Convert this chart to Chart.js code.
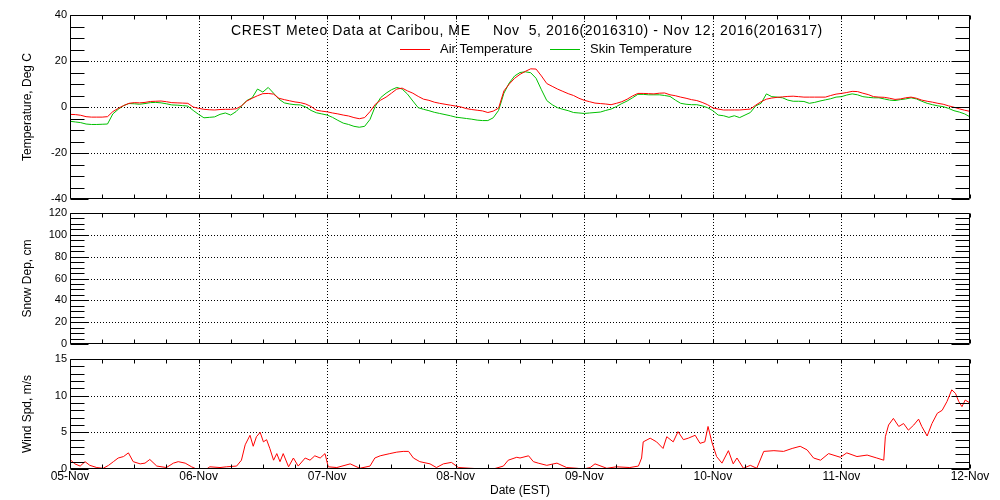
<!DOCTYPE html>
<html>
<head>
<meta charset="utf-8">
<script src="https://cdn.jsdelivr.net/npm/chart.js"></script>
<style>
  html, body { margin: 0; padding: 0; background: #fff; }
  #wrap { position: relative; width: 1000px; height: 500px; overflow: hidden; }
  canvas { position: absolute; left: 0; }
</style>
</head>
<body>
<div id="wrap">
  <canvas id="tempChart" width="1000" height="215" style="top:0px"></canvas>
  <canvas id="snowChart" width="1000" height="160" style="top:198px"></canvas>
  <canvas id="windChart" width="1000" height="156" style="top:344px"></canvas>
</div>

<script>
  // ---- data (hours counted from 05-Nov 00:00 EST) ----
  const dayLabels = ["05-Nov", "06-Nov", "07-Nov", "08-Nov", "09-Nov", "10-Nov", "11-Nov", "12-Nov"];

  // hourly air temperature, deg C, hour 0..168
  const airTemp = [
    -3.2, -3.3, -3.6, -4.2, -4.4, -4.4, -4.4, -4.2, -2.0, -0.6, 0.6, 1.6,
    1.9, 1.8, 2.0, 2.4, 2.5, 2.6, 2.3, 1.9, 1.8, 1.7, 1.6, 0.0,
    -0.6, -1.0, -1.2, -1.3, -1.1, -1.0, -1.0, -0.8, 0.5, 2.6, 3.8, 4.9,
    5.8, 5.9, 5.6, 3.8, 3.2, 2.7, 2.2, 1.9, 1.3, 0.2, -1.4, -1.8,
    -2.1, -2.6, -3.0, -3.5, -3.9, -4.6, -5.1, -4.6, -2.0, 1.2, 3.0, 4.3,
    6.0, 7.8, 8.2, 7.0, 6.0, 4.6, 3.4, 2.9, 2.1, 1.6, 1.2, 0.8,
    0.4, 0.0, -0.7, -1.1, -1.4, -1.7, -2.4, -1.8, -0.5, 7.0, 10.0, 12.5,
    14.2, 15.5, 16.6, 16.5, 13.5, 10.2, 9.0, 7.8, 6.8, 5.8, 5.0, 3.8,
    2.9, 2.3, 1.7, 1.5, 1.3, 1.0, 1.6, 2.3, 3.4, 4.8, 5.9, 5.9,
    5.8, 5.7, 6.0, 6.1, 5.3, 4.9, 4.3, 3.8, 3.2, 2.8, 2.0, 1.0,
    -0.4, -0.9, -1.3, -1.3, -1.3, -1.3, -1.1, -0.9, 0.8, 2.3, 3.4, 3.9,
    4.2, 4.4, 4.6, 4.7, 4.5, 4.3, 4.3, 4.3, 4.3, 4.3, 5.0, 5.6,
    5.9, 6.3, 6.8, 6.7, 6.0, 5.4, 4.5, 4.3, 4.2, 3.8, 3.3, 3.5,
    4.0, 4.3, 3.8, 3.0, 2.5, 2.1, 1.6, 1.2, 0.5, -0.1, -0.8, -1.4,
    -1.9
  ];

  // hourly skin temperature, deg C, hour 0..168
  const skinTemp = [
    -6.2, -6.5, -6.8, -7.4, -7.6, -7.6, -7.5, -7.4, -3.0, -1.0, 0.6, 1.5,
    1.4, 1.2, 1.5, 1.9, 2.0, 1.8, 1.4, 0.9, 0.8, 0.6, 0.4, -1.5,
    -3.2, -4.7, -4.5, -4.3, -3.2, -2.6, -3.5, -2.0, 0.4, 2.8, 4.0, 7.8,
    6.5, 8.5, 6.0, 3.4, 1.8, 1.3, 1.0, 0.9, 0.0, -1.5, -2.5, -3.0,
    -3.5, -4.5, -5.8, -7.0, -7.6, -8.4, -8.8, -8.4, -5.4, 0.4, 4.1, 6.0,
    7.5, 8.5, 7.8, 5.6, 2.6, -0.3, -1.0, -1.6, -2.3, -2.8, -3.3, -3.8,
    -4.4, -4.7, -5.0, -5.3, -5.7, -5.9, -5.9, -4.7, -1.5, 6.0, 10.5, 13.5,
    15.0, 15.3, 14.9, 12.5, 7.5, 2.8, 1.0, -0.3, -1.0, -1.6, -2.4, -2.6,
    -2.8, -2.6, -2.4, -2.2, -1.5, -0.9, 0.2, 1.5, 2.6, 4.0, 5.5, 5.5,
    5.3, 5.3, 5.3, 5.0, 4.6, 3.0, 1.6, 1.2, 1.0, 1.0, 0.5, -0.3,
    -1.6, -3.5, -3.8, -4.5, -3.8, -4.6, -3.5, -2.4, 0.5, 1.6, 5.7, 4.5,
    4.3, 4.0, 3.0, 2.5, 2.5, 2.4, 1.6, 2.0, 2.6, 3.1, 3.6, 4.3,
    4.5, 5.2, 5.7, 5.3, 4.5, 4.2, 4.0, 4.0, 3.5, 3.0, 2.8, 3.2,
    3.5, 4.0, 3.5, 2.5, 1.6, 1.0, 0.5, 0.15, -0.6, -1.6, -2.2, -3.0,
    -4.3
  ];

  // snow depth: no readings in this week
  const snowHours = [];
  const snowDepth = [];

  // wind speed, m/s
  const windHours = [
    0, 0.9, 1.9, 2.8, 3.7, 5, 6.2, 7.2, 8.1, 9, 10, 10.9, 11.8, 13.1, 14, 14.9,
    16.2, 18, 19.3, 20.2, 21.5, 22.7, 23.6, 25.5, 26.1, 28, 29.2, 31.1, 32, 32.7,
    33.6, 34.2, 34.8, 35.5, 36.1, 36.7, 37.3, 38, 38.6, 39.2, 39.8, 40.8, 41.7,
    42.6, 43.9, 44.8, 45.7, 46.7, 47.6, 48.2, 49.8, 52.3, 54.1, 56, 56.9, 57.9,
    59.7, 61, 62.2, 63.2, 64.1, 65.3, 67.2, 68.4, 69.7, 71.2, 72.5, 74.7, 77.2,
    79, 80.9, 81.8, 83.4, 84, 85.6, 86.5, 87.4, 89, 90.9, 92.7, 94.6, 95.8, 97.1,
    98, 100.2, 102, 104.5, 106.1, 106.7, 107, 108.3, 109.5, 110.7, 111.4, 112.6,
    113.5, 114.5, 115.4, 116.7, 117.6, 118.5, 119.1, 119.8, 120.7, 121.7, 122.9,
    123.8, 124.5, 125.7, 127, 128.2, 129.5, 131.4, 133.2, 134.8, 136.3, 137.6,
    138.8, 140.1, 141.6, 143.8, 145, 146.9, 148.8, 150.6, 151.9, 152.2, 152.8,
    153.7, 154.7, 155.6, 156.5, 157.5, 158.4, 159, 160, 160.9, 161.9, 162.8,
    163.7, 164.6, 165.3, 165.9, 166.5, 167.1, 168
  ];
  const windSpeed = [
    1.3, 0.7, 0.4, 1.0, 0.5, 0.2, 0.1, 0.5, 1.0, 1.5, 1.7, 2.2, 1.0, 0.7, 0.8, 1.3,
    0.4, 0.2, 0.8, 1.0, 0.8, 0.3, 0.0, 0.0, 0.3, 0.2, 0.3, 0.4, 1.2, 3.3,
    4.6, 3.1, 4.4, 5.0, 3.7, 4.0, 2.8, 1.2, 2.1, 1.0, 2.1, 0.3, 1.5,
    0.4, 1.5, 1.2, 1.8, 1.5, 2.1, 0.3, 0.2, 0.7, 0.1, 0.4, 1.5, 1.8,
    2.1, 2.3, 2.4, 2.4, 1.5, 1.0, 0.7, 0.2, 0.7, 0.9, 0.2, 0.1, 0.0,
    0.0, 0.4, 1.2, 1.6, 1.5, 1.8, 1.0, 0.8, 0.5, 0.8, 0.2, 0.1, 0.0, 0.2,
    0.7, 0.1, 0.3, 0.2, 0.4, 1.5, 3.7, 4.2, 3.7, 2.8, 4.4, 3.7,
    5.1, 4.0, 4.2, 4.6, 3.5, 3.7, 5.8, 3.7, 1.7, 0.8, 2.5,
    0.7, 1.5, 0.1, 0.5, 0.1, 2.4, 2.5, 2.4, 2.8, 3.1, 2.6,
    1.5, 1.2, 2.1, 1.6, 2.2, 1.7, 1.9, 1.5, 1.2, 4.4, 6.0,
    6.9, 5.8, 6.2, 5.3, 6.0, 6.8, 5.8, 4.5, 6.2, 7.6, 8.0,
    9.2, 10.8, 10.3, 9.2, 8.5, 9.4, 9.0
  ];

  const FONT = '"Liberation Sans", Arial, sans-serif';
  const RED = "rgb(255,0,0)";
  const GREEN = "rgb(0,192,0)";

  // IDL-style frame: dotted grid, inward ticks on all four sides
  const idlAxes = {
    id: "idlAxes",
    beforeDatasetsDraw(chart, args, opts) {
      const { ctx, chartArea: a, scales: { x, y } } = chart;
      ctx.save();
      ctx.strokeStyle = "#000";
      ctx.lineWidth = 1;
      ctx.setLineDash([1, 2]);
      ctx.beginPath();
      for (let h = x.min + 24; h < x.max; h += 24) {
        const px = Math.round(x.getPixelForValue(h)) + 0.5;
        ctx.moveTo(px, a.top);
        ctx.lineTo(px, a.bottom);
      }
      for (let v = y.min + opts.major; v < y.max - 1e-6; v += opts.major) {
        const py = Math.round(y.getPixelForValue(v)) + 0.5;
        ctx.moveTo(a.left, py);
        ctx.lineTo(a.right, py);
      }
      ctx.stroke();
      ctx.restore();
    },
    afterDatasetsDraw(chart, args, opts) {
      const { ctx, chartArea: a, scales: { x, y } } = chart;
      ctx.save();
      ctx.strokeStyle = "#000";
      ctx.lineWidth = 1;
      ctx.beginPath();
      const L = Math.round(a.left) + 0.5, R = Math.round(a.right) - 0.5;
      const T = Math.round(a.top) + 0.5, B = Math.round(a.bottom) - 0.5;
      ctx.rect(L, T, R - L, B - T);
      // y ticks, left and right
      for (let v = y.min; v <= y.max + 1e-6; v += opts.minor) {
        const py = Math.round(y.getPixelForValue(v)) + 0.5;
        const isMajor = Math.abs(v / opts.major - Math.round(v / opts.major)) < 1e-6;
        const len = isMajor ? 18 : 14;
        ctx.moveTo(L, py); ctx.lineTo(L + len, py);
        ctx.moveTo(R, py); ctx.lineTo(R - len, py);
      }
      // x ticks every 6 hours, top and bottom
      for (let h = x.min; h <= x.max; h += 6) {
        const px = Math.round(x.getPixelForValue(h)) + 0.5;
        ctx.moveTo(px, T); ctx.lineTo(px, T + 4);
        ctx.moveTo(px, B); ctx.lineTo(px, B - 4);
      }
      ctx.stroke();
      ctx.restore();
    }
  };

  // title + legend written inside the top panel
  const idlTitle = {
    id: "idlTitle",
    afterDraw(chart, args, o) {
      const ctx = chart.ctx;
      ctx.save();
      ctx.fillStyle = "#000";
      ctx.textBaseline = "middle";
      ctx.font = "14px " + FONT;
      ctx.letterSpacing = "0.6px";
      ctx.fillText(o.text, o.x, o.y);
      ctx.letterSpacing = "0px";
      ctx.font = "13px " + FONT;
      o.items.forEach((lx, i) => {
        const ds = chart.data.datasets[i];
        ctx.strokeStyle = ds.borderColor;
        ctx.lineWidth = 1;
        ctx.beginPath();
        ctx.moveTo(lx, o.legendY + 0.5);
        ctx.lineTo(lx + 30, o.legendY + 0.5);
        ctx.stroke();
        ctx.fillText(ds.label, lx + 40, o.legendY);
      });
      ctx.restore();
    }
  };

  function yScale(min, max, step, title) {
    return {
      min: min, max: max,
      afterFit: s => { s.width = 70; },
      grid: { display: false, drawTicks: false },
      border: { display: false },
      ticks: { stepSize: step, padding: 3, color: "#000", font: { family: FONT, size: 11 } },
      title: { display: true, text: title, color: "#000", font: { family: FONT, size: 12 }, padding: { top: 20, bottom: 0 } }
    };
  }

  function baseOptions(padding) {
    return {
      animation: false,
      responsive: false,
      events: [],
      layout: { padding: padding },
      plugins: { legend: { display: false }, tooltip: { enabled: false } }
    };
  }

  const lineStyle = { borderWidth: 1, pointRadius: 0, tension: 0, fill: false };

  // ---- temperature panel ----
  const tOpts = baseOptions({ left: 0, right: 30, top: 15, bottom: 16 });
  tOpts.plugins.idlAxes = { major: 20, minor: 5 };
  tOpts.plugins.idlTitle = {
    text: "CREST Meteo Data at Caribou, ME     Nov  5, 2016(2016310) - Nov 12, 2016(2016317)",
    x: 231, y: 31, legendY: 49, items: [400, 550]
  };
  tOpts.scales = {
    x: { type: "linear", min: 0, max: 168, display: false },
    y: yScale(-40, 40, 20, "Temperature, Deg C")
  };
  new Chart(document.getElementById("tempChart"), {
    type: "line",
    data: {
      datasets: [
        Object.assign({ label: "Air Temperature", borderColor: RED, data: airTemp.map((v, i) => ({ x: i, y: v })) }, lineStyle),
        Object.assign({ label: "Skin Temperature", borderColor: GREEN, data: skinTemp.map((v, i) => ({ x: i, y: v })) }, lineStyle)
      ]
    },
    options: tOpts,
    plugins: [idlAxes, idlTitle]
  });

  // ---- snow depth panel ----
  const sOpts = baseOptions({ left: 0, right: 30, top: 15, bottom: 14 });
  sOpts.plugins.idlAxes = { major: 20, minor: 5 };
  sOpts.scales = {
    x: { type: "linear", min: 0, max: 168, display: false },
    y: yScale(0, 120, 20, "Snow Dep, cm")
  };
  new Chart(document.getElementById("snowChart"), {
    type: "line",
    data: {
      datasets: [
        Object.assign({ label: "Snow Depth", borderColor: RED, data: snowHours.map((h, i) => ({ x: h, y: snowDepth[i] })) }, lineStyle)
      ]
    },
    options: sOpts,
    plugins: [idlAxes]
  });

  // ---- wind speed panel ----
  const wOpts = baseOptions({ left: 0, right: 30, top: 15, bottom: 0 });
  wOpts.plugins.idlAxes = { major: 5, minor: 1 };
  wOpts.scales = {
    x: {
      type: "linear", min: 0, max: 168,
      afterFit: s => { s.height = 31; },
      grid: { display: false, drawTicks: false },
      border: { display: false },
      ticks: {
        stepSize: 24, padding: 0, maxRotation: 0, autoSkip: false, color: "#000",
        font: { family: FONT, size: 12 },
        callback: v => dayLabels[v / 24]
      },
      title: { display: true, text: "Date (EST)", color: "#000", font: { family: FONT, size: 12 }, padding: { top: 0, bottom: 2 } }
    },
    y: yScale(0, 15, 5, "Wind Spd, m/s")
  };
  new Chart(document.getElementById("windChart"), {
    type: "line",
    data: {
      datasets: [
        Object.assign({ label: "Wind Speed", borderColor: RED, data: windHours.map((h, i) => ({ x: h, y: windSpeed[i] })) }, lineStyle)
      ]
    },
    options: wOpts,
    plugins: [idlAxes]
  });
</script>
</body>
</html>
